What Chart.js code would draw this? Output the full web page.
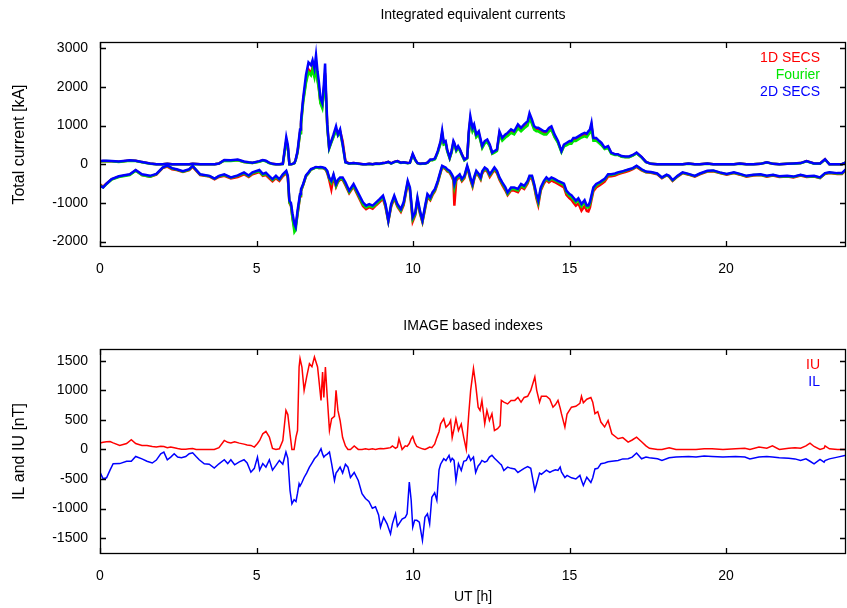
<!DOCTYPE html>
<html>
<head>
<meta charset="utf-8">
<title>Integrated equivalent currents / IMAGE based indexes</title>
<script src="https://cdn.jsdelivr.net/npm/chart.js@4.4.1/dist/chart.umd.min.js"></script>
<style>
  html, body { margin: 0; padding: 0; background: #fff; }
  #wrap { position: relative; width: 847px; height: 608px; }
  .panel { position: absolute; left: 0; width: 847px; }
  #topBox { top: 0; height: 300px; }
  #bottomBox { top: 300px; height: 308px; }
</style>
</head>
<body>
<div id="wrap">
  <div class="panel" id="topBox"><canvas id="topChart" width="847" height="300"></canvas></div>
  <div class="panel" id="bottomBox"><canvas id="bottomChart" width="847" height="308"></canvas></div>
</div>
<script>
// ── Data ─────────────────────────────────────────────────
const xTicks = [0, 5, 10, 15, 20];
const topYTicks = [-2000, -1000, 0, 1000, 2000, 3000];
const bottomYTicks = [-1500, -1000, -500, 0, 500, 1000, 1500];

// UT hours of the sampled points, upper panel
const topHours = [
  0, 0.1, 0.2, 0.37, 0.6, 0.95, 1.14, 1.34, 1.6, 1.8,
  2.0, 2.15, 2.3, 2.45, 2.65, 2.85, 2.96, 3.2, 3.5, 3.66,
  3.8, 3.97, 4.18, 4.4, 4.6, 4.75, 4.87, 5.09, 5.2, 5.3,
  5.4, 5.51, 5.62, 5.73, 5.84, 5.95, 6.0, 6.05, 6.1, 6.15,
  6.21, 6.25, 6.31, 6.39, 6.42, 6.49, 6.58, 6.66, 6.74, 6.79,
  6.85, 6.9, 6.95, 6.99, 7.04, 7.1, 7.15, 7.19, 7.22, 7.26,
  7.32, 7.39, 7.46, 7.54, 7.6, 7.67, 7.75, 7.84, 7.96, 8.1,
  8.29, 8.4, 8.5, 8.6, 8.71, 8.82, 8.93, 9.04, 9.12, 9.21,
  9.3, 9.4, 9.5, 9.61, 9.7, 9.83, 9.9, 9.99, 10.07, 10.14,
  10.22, 10.3, 10.38, 10.46, 10.55, 10.62, 10.7, 10.79, 10.88, 10.93,
  10.98, 11.04, 11.09, 11.17, 11.23, 11.29, 11.32, 11.38, 11.44, 11.49,
  11.56, 11.64, 11.73, 11.78, 11.83, 11.9, 11.95, 12.02, 12.1, 12.16,
  12.21, 12.29, 12.37, 12.45, 12.53, 12.6, 12.68, 12.76, 12.85, 12.95,
  13.02, 13.13, 13.23, 13.35, 13.45, 13.55, 13.66, 13.72, 13.8, 13.87,
  13.94, 14.0, 14.08, 14.18, 14.26, 14.34, 14.42, 14.52, 14.63, 14.74,
  14.82, 14.9, 15.0, 15.06, 15.12, 15.2, 15.28, 15.38, 15.48, 15.55,
  15.6, 15.65, 15.7, 15.76, 15.85, 15.95, 16.02, 16.12, 16.23, 16.33,
  16.45, 16.54, 16.66, 16.78, 16.9, 17.02, 17.14, 17.3, 17.44, 17.6,
  17.8, 17.95, 18.1, 18.18, 18.29, 18.45, 18.61, 18.8, 19.0, 19.16,
  19.4, 19.59, 19.8, 20.02, 20.25, 20.44, 20.65, 20.87, 21.1, 21.3,
  21.5, 21.7, 21.95, 22.15, 22.38, 22.57, 22.81, 23.0, 23.16, 23.3,
  23.55, 23.7, 23.83
];

// Total eastward / westward current [kA]
const secs1dUp = [
  70, 85, 80, 80, 65, 95, 90, 55, 20, 0,
  0, 10, 0, 0, 0, 0, 10, 0, 0, 0,
  20, 100, 90, 110, 60, 45, 35, 70, 100, 80,
  35, 10, 0, 0, 10, 600, 450, 0, 0, 10,
  30, 110, 300, 820, 1050, 1650, 2150, 2450, 2350, 2500,
  2300, 2580, 2200, 1980, 1600, 1500, 1900, 2350, 1750, 980,
  420, 580, 720, 900, 800, 850, 600, 80, 20, 30,
  10, 0, 0, 10, 0, 20, 10, 30, 40, 60,
  20, 60, 80, 40, 50, 30, 40, 250, 110, 30,
  10, 20, 20, 40, 110, 110, 140, 320, 560, 800,
  530, 560, 360, 160, 320, 560, 520, 360, 440, 380,
  250, 110, 160, 800, 1150, 880, 960, 720, 800, 600,
  440, 560, 600, 480, 280, 320, 360, 790, 640, 720,
  750, 840, 800, 960, 880, 960, 1040, 1230, 1080, 920,
  880, 880, 840, 800, 800, 880, 920, 720, 570, 330,
  480, 520, 560, 560, 630, 630, 670, 720, 760, 740,
  800, 850, 1000, 640, 640, 570, 520, 410, 450, 290,
  250, 250, 200, 190, 190, 230, 290, 180, 60, 10,
  0, 0, 0, 0, 0, 0, 0, 20, 0, 0,
  20, 0, 0, 0, 0, 20, 0, 0, 10, 50,
  10, 0, 10, 20, 30, 80, 20, 20, 130, 0,
  0, 0, 50
];
const secs1dDown = [
  -520, -580, -500, -390, -320, -270, -160, -280, -320, -270,
  -100, -60, -130, -150, -200, -150, -70, -280, -320, -390,
  -330, -300, -370, -330, -260, -330, -260, -200, -300, -280,
  -360, -440, -360, -430, -310, -230, -350, -1000, -1080, -1400,
  -1650, -1600, -1300, -830, -700, -540, -310, -230, -140, -120,
  -100, -80, -90, -95, -90, -95, -110, -130, -160, -230,
  -400, -650, -320, -580, -460, -400, -400, -540, -750, -580,
  -900, -1080, -1160, -1110, -1150, -1060, -980, -890, -1110, -1480,
  -1100, -880, -1100, -1230, -1060, -500, -680, -1480, -1320, -940,
  -1270, -1500, -1180, -850, -930, -800, -700, -480, -220, -80,
  -100, -130, -180, -220, -310, -420, -1070, -420, -360, -320,
  -440, -360, -90, -230, -400, -580, -400, -220, -310, -400,
  -240, -140, -190, -330, -230, -150, -230, -400, -540, -680,
  -800, -680, -680, -720, -590, -640, -500, -360, -370, -580,
  -880, -1060, -680, -500, -410, -470, -420, -460, -510, -560,
  -600, -790, -880, -920, -990, -1070, -1010, -1200, -1080, -1210,
  -1220, -1120, -920, -700, -600, -550, -510, -450, -320, -310,
  -290, -260, -230, -200, -170, -130, -70, -160, -210, -220,
  -260, -360, -290, -320, -430, -320, -230, -270, -320, -260,
  -190, -180, -230, -270, -230, -270, -320, -290, -280, -320,
  -290, -330, -320, -340, -290, -330, -320, -360, -250, -230,
  -250, -250, -150
];
const fourierUp = [
  75, 80, 85, 75, 60, 90, 85, 50, 15, 0,
  0, 5, 0, 0, 0, 0, 5, 0, 0, 0,
  15, 90, 85, 100, 55, 40, 30, 65, 95, 75,
  30, 5, 0, 0, 5, 580, 420, 0, 0, 5,
  25, 100, 300, 800, 1000, 1600, 2100, 2380, 2300, 2450,
  2250, 2530, 2150, 1950, 1580, 1450, 1850, 2300, 1700, 950,
  400, 560, 700, 880, 740, 820, 500, 50, 15, 25,
  5, 0, 0, 5, 0, 15, 5, 25, 35, 55,
  15, 55, 70, 35, 45, 25, 35, 240, 100, 25,
  5, 15, 15, 35, 100, 100, 130, 300, 540, 780,
  510, 540, 340, 150, 300, 540, 500, 340, 420, 360,
  230, 100, 150, 770, 1120, 850, 940, 700, 770, 580,
  420, 540, 580, 460, 270, 300, 340, 760, 610, 690,
  730, 810, 770, 930, 850, 930, 1000, 1200, 1040, 890,
  850, 850, 810, 770, 770, 850, 890, 700, 550, 310,
  460, 490, 530, 530, 600, 600, 640, 690, 720, 700,
  760, 810, 950, 610, 610, 540, 490, 390, 420, 270,
  240, 240, 190, 180, 180, 220, 280, 170, 55, 10,
  0, 0, 0, 0, 0, 0, 0, 15, 0, 0,
  15, 0, 0, 0, 0, 15, 0, 0, 10, 45,
  10, 0, 10, 15, 25, 75, 15, 15, 120, 0,
  0, 0, 45
];
const fourierDown = [
  -540, -600, -520, -400, -330, -280, -170, -280, -320, -260,
  -90, -40, -110, -140, -190, -140, -50, -270, -310, -380,
  -310, -280, -350, -300, -230, -310, -230, -180, -280, -250,
  -320, -410, -330, -400, -280, -200, -330, -980, -1060, -1400,
  -1750, -1700, -1280, -810, -690, -530, -310, -230, -140, -125,
  -100, -85, -90, -95, -90, -95, -105, -120, -150, -200,
  -370, -480, -300, -560, -440, -380, -380, -510, -720, -550,
  -860, -1040, -1120, -1080, -1110, -1030, -940, -850, -1070, -1470,
  -1070, -850, -1070, -1200, -1020, -470, -640, -1420, -1290, -900,
  -1240, -1480, -1140, -810, -900, -770, -670, -460, -200, -60,
  -80, -110, -160, -200, -280, -380, -600, -380, -330, -290,
  -410, -330, -70, -200, -370, -550, -370, -200, -280, -370,
  -210, -110, -160, -290, -200, -110, -200, -370, -500, -640,
  -770, -640, -640, -680, -550, -600, -460, -330, -330, -550,
  -820, -1000, -640, -460, -370, -430, -370, -410, -460, -510,
  -540, -730, -820, -850, -910, -990, -930, -1090, -980, -1120,
  -1120, -1030, -850, -640, -550, -500, -460, -400, -280, -280,
  -260, -230, -200, -170, -140, -110, -50, -140, -200, -210,
  -250, -350, -280, -310, -420, -310, -220, -260, -310, -250,
  -180, -170, -220, -260, -220, -260, -310, -280, -270, -310,
  -280, -320, -310, -330, -280, -320, -310, -350, -240, -220,
  -240, -240, -140
];
const secs2dUp = [
  80, 90, 90, 85, 70, 100, 90, 60, 20, 0,
  0, 10, 0, 0, 0, 0, 10, 0, 0, 0,
  20, 110, 100, 120, 70, 50, 40, 80, 110, 90,
  40, 10, 0, 0, 10, 700, 500, 0, 0, 10,
  30, 120, 340, 900, 1110, 1710, 2310, 2630, 2560, 2690,
  2480, 2820, 2390, 2140, 1710, 1580, 2060, 2600, 1880, 1030,
  430, 600, 770, 980, 770, 900, 520, 50, 20, 30,
  10, 0, 0, 10, 0, 20, 10, 30, 40, 60,
  20, 60, 80, 40, 50, 30, 40, 270, 120, 30,
  10, 20, 20, 40, 120, 120, 150, 340, 600, 870,
  570, 600, 380, 170, 340, 600, 550, 380, 470, 400,
  260, 120, 170, 850, 1240, 940, 1030, 770, 850, 640,
  470, 600, 640, 510, 300, 340, 380, 850, 680, 770,
  810, 900, 850, 1030, 940, 1030, 1110, 1320, 1150, 980,
  940, 940, 900, 850, 850, 940, 980, 770, 600, 340,
  510, 550, 600, 600, 680, 680, 720, 770, 810, 790,
  850, 900, 1070, 680, 680, 600, 550, 430, 470, 300,
  260, 260, 210, 200, 200, 240, 300, 190, 60, 10,
  0, 0, 0, 0, 0, 0, 0, 20, 0, 0,
  20, 0, 0, 0, 0, 20, 0, 0, 10, 50,
  10, 0, 10, 20, 30, 80, 20, 20, 130, 0,
  0, 0, 50
];
const secs2dDown = [
  -560, -600, -510, -385, -310, -260, -150, -260, -300, -250,
  -85, -30, -100, -130, -180, -130, -45, -260, -300, -370,
  -300, -260, -340, -290, -210, -290, -210, -150, -250, -220,
  -300, -385, -300, -385, -260, -170, -300, -940, -1000, -1280,
  -1540, -1620, -1200, -770, -650, -510, -290, -210, -125, -110,
  -90, -70, -75, -80, -75, -80, -90, -100, -130, -170,
  -340, -430, -260, -510, -400, -340, -340, -470, -685, -510,
  -810, -985, -1070, -1030, -1070, -985, -900, -810, -1030, -1455,
  -1030, -810, -1030, -1160, -985, -430, -600, -1370, -1250, -860,
  -1200, -1455, -1100, -770, -860, -730, -640, -430, -170, -40,
  -60, -85, -130, -170, -250, -340, -510, -340, -300, -260,
  -380, -300, -40, -170, -340, -510, -340, -170, -250, -340,
  -180, -85, -130, -260, -170, -85, -170, -340, -470, -600,
  -730, -600, -600, -640, -510, -560, -430, -300, -300, -510,
  -770, -940, -600, -430, -340, -400, -340, -380, -430, -470,
  -500, -685, -770, -800, -860, -940, -880, -1030, -930, -1070,
  -1070, -980, -800, -600, -510, -470, -430, -380, -260, -260,
  -240, -210, -190, -160, -130, -100, -40, -130, -190, -200,
  -240, -340, -270, -300, -410, -300, -210, -250, -300, -240,
  -170, -160, -210, -250, -210, -250, -300, -270, -260, -300,
  -270, -310, -300, -320, -270, -310, -300, -340, -230, -210,
  -230, -230, -130
];

// UT hours of the sampled points, lower panel
const indexHours = [
  0, 0.1, 0.21, 0.32, 0.42, 0.63, 0.85, 1.0, 1.14, 1.34,
  1.5, 1.67, 1.8, 1.94, 2.04, 2.15, 2.26, 2.37, 2.48, 2.6,
  2.74, 2.85, 2.96, 3.07, 3.17, 3.33, 3.49, 3.65, 3.8, 3.97,
  4.08, 4.18, 4.3, 4.45, 4.6, 4.7, 4.82, 4.93, 5.03, 5.1,
  5.2, 5.3, 5.41, 5.51, 5.62, 5.73, 5.84, 5.94, 6.0, 6.07,
  6.13, 6.2, 6.26, 6.31, 6.36, 6.39, 6.45, 6.52, 6.6, 6.69,
  6.77, 6.85, 6.95, 7.06, 7.11, 7.15, 7.2, 7.26, 7.33, 7.4,
  7.49, 7.54, 7.6, 7.67, 7.75, 7.84, 7.92, 8.0, 8.12, 8.25,
  8.37, 8.48, 8.59, 8.7, 8.8, 8.9, 8.96, 9.06, 9.17, 9.28,
  9.34, 9.44, 9.5, 9.55, 9.65, 9.75, 9.81, 9.88, 9.94, 9.99,
  10.05, 10.12, 10.2, 10.3, 10.38, 10.46, 10.53, 10.6, 10.69, 10.76,
  10.83, 10.88, 10.98, 11.05, 11.15, 11.2, 11.25, 11.31, 11.37, 11.45,
  11.54, 11.62, 11.7, 11.78, 11.84, 11.93, 12.0, 12.08, 12.14, 12.2,
  12.29, 12.36, 12.44, 12.52, 12.6, 12.7, 12.78, 12.82, 12.9, 13.02,
  13.13, 13.25, 13.35, 13.45, 13.55, 13.66, 13.76, 13.89, 13.95, 14.04,
  14.1, 14.26, 14.37, 14.47, 14.55, 14.63, 14.7, 14.74, 14.85, 14.92,
  15.06, 15.2, 15.33, 15.38, 15.44, 15.55, 15.68, 15.74, 15.81, 15.9,
  16.0, 16.12, 16.23, 16.35, 16.55, 16.7, 16.87, 17.0, 17.14, 17.3,
  17.44, 17.55, 17.81, 17.95, 18.18, 18.4, 18.8, 19.04, 19.3, 19.55,
  19.9, 20.3, 20.6, 20.76, 21.05, 21.3, 21.48, 21.7, 22.0, 22.2,
  22.38, 22.55, 22.68, 22.81, 23.0, 23.13, 23.16, 23.3, 23.56, 23.83
];
// IU and IL [nT]
const iuValues = [
  107, 120, 130, 135, 110, 68, 100, 164, 100, 68,
  68, 50, 40, 55, 50, 30, 40, 30, 17, 5,
  5, 10, 15, 0, 0, 0, 0, 0, 30, 152,
  120, 110, 130, 107, 90, 75, 68, 40, 100, 152,
  265, 305, 210, 17, 0, 10, 150, 660, 590, 265,
  0, 0, 210, 320, 1395, 1537, 1395, 1000, 1225, 1452,
  1400, 1565, 1395, 830, 1310, 880, 1395, 880, 320, 520,
  560, 1000, 660, 490, 200, 60, 0, 0, 60, 0,
  0, 10, 0, 10, 0, 10, 15, 10, 20, 30,
  60, 20, 40, 180, 0, 60, 50, 100, 180, 220,
  120, 50, 30, 10, 0, 20, 40, 30, 90, 200,
  300, 435, 520, 375, 430, 490, 200, 350, 520, 320,
  430, 200, 0, 605, 1000, 1370, 1100, 715, 660, 830,
  435, 660, 490, 605, 320, 350, 400, 830, 800, 770,
  830, 830, 880, 800, 880, 900, 1000, 1225, 1000, 800,
  900, 900, 850, 715, 760, 830, 700, 605, 378, 600,
  715, 730, 780, 900, 790, 850, 880, 800, 605, 640,
  463, 380, 490, 265, 180, 200, 124, 160, 209, 130,
  60, 20, 0, 0, 30, 0, 0, 0, 10, 10,
  0, 10, 20, 0, 40, 20, 60, 0, 20, 30,
  20, 60, 107, 50, 0, 20, 60, 10, 0, 0
];
const ilValues = [
  -385, -497, -480, -350, -243, -240, -200, -200, -119, -160,
  -200, -230, -180, -73, -45, -175, -130, -73, -130, -140,
  -120, -73, -56, -120, -175, -243, -250, -316, -243, -175,
  -240, -175, -260, -210, -175, -230, -385, -320, -130, -350,
  -240, -300, -175, -350, -270, -186, -250, -45, -150, -695,
  -920, -850, -880, -740, -580, -620, -560, -475, -400, -300,
  -230, -158, -100, 12, -80, -130, -100, -80, -45, -243,
  -525, -400, -356, -300, -400, -250, -300, -475, -390, -525,
  -750, -830, -880, -995, -970, -1110, -1317, -1150, -1260, -1430,
  -1260, -1090, -1300, -1260, -1180, -1150, -1090, -554, -860, -1317,
  -1200, -1200, -1230, -1540, -1150, -1090, -1260, -810, -735, -860,
  -345, -250, -158, -190, -100, -200, -150, -186, -525, -243,
  -356, -200, -186, -100, -186, -130, -390, -280, -243, -186,
  -215, -200, -130, -100, -150, -200, -243, -260, -356, -300,
  -320, -330, -390, -356, -320, -290, -320, -695, -580, -400,
  -420, -350, -390, -360, -345, -356, -300, -380, -475, -440,
  -480, -500, -440, -520, -610, -470, -560, -480, -330, -320,
  -243, -230, -210, -200, -186, -160, -158, -130, -60, -158,
  -130, -140, -158, -186, -140, -130, -120, -130, -110, -120,
  -130, -120, -130, -160, -130, -120, -130, -140, -150, -160,
  -186, -160, -200, -243, -170, -215, -190, -160, -130, -100
];

// ── Look ─────────────────────────────────────────────────
const FONT = '"Liberation Sans", Arial, Helvetica, sans-serif';
const RED = '#ff0000', GREEN = '#00e600', BLUE = '#0000ff';
const X_MAX = 23.83;

Chart.defaults.font.family = FONT;
Chart.defaults.font.size = 14;
Chart.defaults.color = '#000';

const pts = (hours, vals) => hours.map((h, i) => ({ x: h, y: vals[i] }));

// gnuplot style frame: closed box, ticks pointing inwards on all sides
const gnuFrame = {
  id: 'gnuFrame',
  afterDatasetsDraw(chart) {
    const { ctx, chartArea: a, scales: { x, y } } = chart;
    const len = 6;
    ctx.save();
    ctx.strokeStyle = '#000';
    ctx.lineWidth = 1.3;
    ctx.beginPath();
    x.ticks.forEach(t => {
      const px = Math.round(x.getPixelForValue(t.value)) + 0.5;
      ctx.moveTo(px, a.bottom); ctx.lineTo(px, a.bottom - len);
      ctx.moveTo(px, a.top);    ctx.lineTo(px, a.top + len);
    });
    y.ticks.forEach(t => {
      const py = Math.round(y.getPixelForValue(t.value)) + 0.5;
      ctx.moveTo(a.left, py);  ctx.lineTo(a.left + len, py);
      ctx.moveTo(a.right, py); ctx.lineTo(a.right - len, py);
    });
    ctx.stroke();
    ctx.strokeRect(a.left + 0.5, a.top + 0.5, a.width - 1, a.height - 1);
    ctx.restore();
  }
};

// key in the upper right corner: coloured labels only, right aligned
const cornerKey = {
  id: 'cornerKey',
  afterDraw(chart, args, opts) {
    const { ctx, chartArea: a } = chart;
    ctx.save();
    ctx.font = '14px ' + FONT;
    ctx.textAlign = 'right';
    ctx.textBaseline = 'middle';
    opts.items.forEach((it, i) => {
      ctx.fillStyle = it.color;
      ctx.fillText(it.text, a.right - 26, a.top + 16 + i * 17);
    });
    ctx.restore();
  }
};

function line(label, data, color, width) {
  return {
    label, data,
    borderColor: color,
    borderWidth: width,
    pointRadius: 0,
    tension: 0,
    fill: false,
  };
}

function panelOptions({ title, titlePad, yTitle, yMin, yMax, yTicks, xTitle, xHeight, key }) {
  return {
    responsive: false,
    animation: false,
    events: [],
    layout: { padding: { left: 0, right: 1, top: 0, bottom: 0 } },
    scales: {
      x: {
        type: 'linear',
        min: 0,
        max: X_MAX,
        afterBuildTicks: s => { s.ticks = xTicks.map(v => ({ value: v })); },
        afterFit: s => { s.height = xHeight; },
        grid: { display: false, drawTicks: false },
        border: { display: false },
        ticks: { color: '#000', padding: 14, maxRotation: 0, autoSkip: false, callback: v => v },
        title: xTitle
          ? { display: true, text: xTitle, color: '#000', font: { size: 14 }, padding: { top: 0, bottom: 2 } }
          : { display: false },
      },
      y: {
        type: 'linear',
        min: yMin,
        max: yMax,
        afterBuildTicks: s => { s.ticks = yTicks.map(v => ({ value: v })); },
        afterFit: s => { s.width = 100; },
        grid: { display: false, drawTicks: false },
        border: { display: false },
        ticks: { color: '#000', padding: 12, callback: v => v },
        title: { display: true, text: yTitle, color: '#000', font: { size: 16 }, padding: { top: 10.4, bottom: 0 } },
      },
    },
    plugins: {
      legend: { display: false },
      tooltip: { enabled: false },
      title: {
        display: true,
        text: title,
        color: '#000',
        fullSize: false,
        font: { size: 14, weight: 'normal' },
        padding: titlePad,
      },
      cornerKey: { items: key },
    },
  };
}

// ── Upper panel: integrated currents ─────────────────────
new Chart(document.getElementById('topChart'), {
  type: 'line',
  data: {
    datasets: [
      line('2D SECS', pts(topHours, secs2dUp), BLUE, 2.5),
      line('2D SECS', pts(topHours, secs2dDown), BLUE, 2.5),
      line('Fourier', pts(topHours, fourierUp), GREEN, 2.5),
      line('Fourier', pts(topHours, fourierDown), GREEN, 2.5),
      line('1D SECS', pts(topHours, secs1dUp), RED, 2.5),
      line('1D SECS', pts(topHours, secs1dDown), RED, 2.5),
    ],
  },
  options: panelOptions({
    title: 'Integrated equivalent currents',
    titlePad: { top: 7.2, bottom: 18 },
    yTitle: 'Total current [kA]',
    yMin: -2140, yMax: 3160, yTicks: topYTicks,
    xHeight: 53,
    key: [
      { text: '1D SECS', color: RED },
      { text: 'Fourier', color: GREEN },
      { text: '2D SECS', color: BLUE },
    ],
  }),
  plugins: [gnuFrame, cornerKey],
});

// ── Lower panel: IMAGE indexes ───────────────────────────
new Chart(document.getElementById('bottomChart'), {
  type: 'line',
  data: {
    datasets: [
      line('IU', pts(indexHours, iuValues), RED, 1.5),
      line('IL', pts(indexHours, ilValues), BLUE, 1.5),
    ],
  },
  options: panelOptions({
    title: 'IMAGE based indexes',
    titlePad: { top: 18.2, bottom: 14 },
    yTitle: 'IL and IU [nT]',
    yMin: -1770, yMax: 1700, yTicks: bottomYTicks,
    xTitle: 'UT [h]',
    xHeight: 54,
    key: [
      { text: 'IU', color: RED },
      { text: 'IL', color: BLUE },
    ],
  }),
  plugins: [gnuFrame, cornerKey],
});
</script>
</body>
</html>
